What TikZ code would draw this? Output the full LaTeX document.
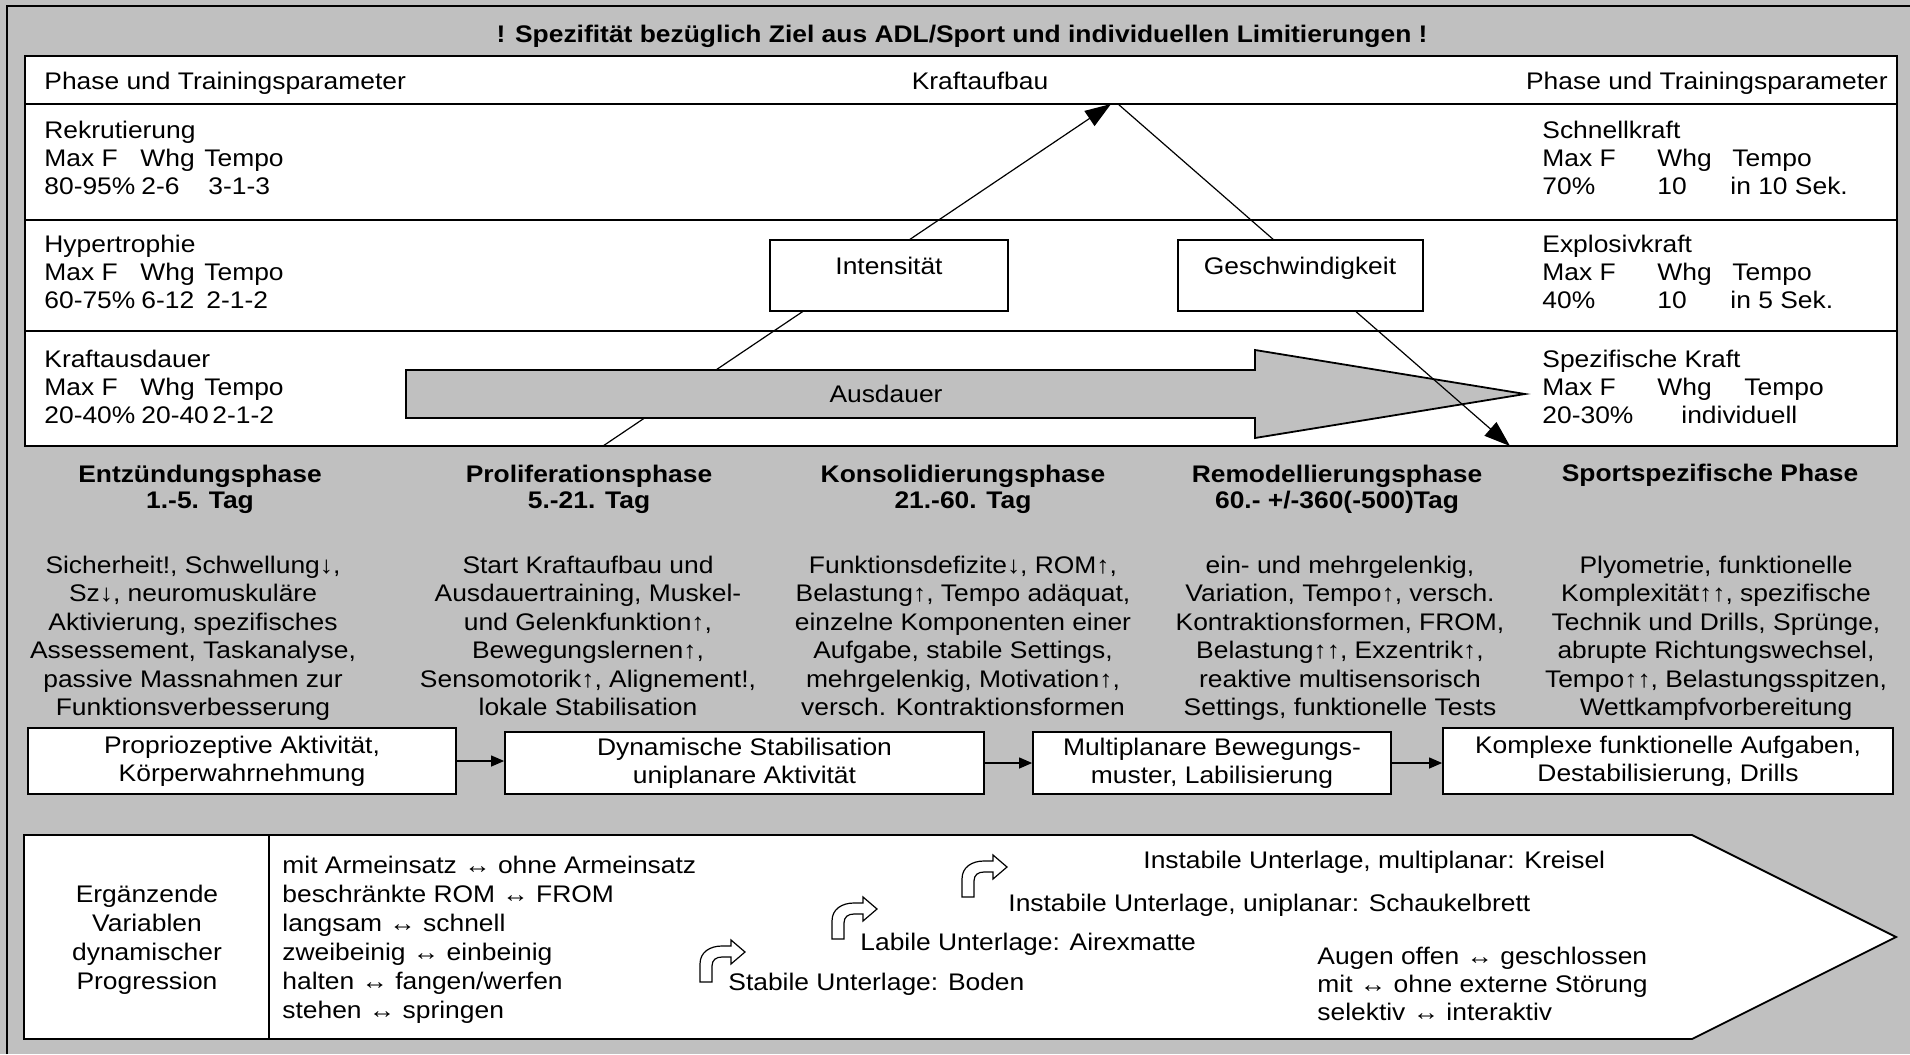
\documentclass[tikz,border=0pt]{standalone}
\usepackage{fontspec}
\setmainfont{Liberation Sans}[FakeStretch=1.1]
\usetikzlibrary{arrows.meta}
\definecolor{bg}{HTML}{C0C0C0}
\newcommand\fs{\fontsize{12pt}{14pt}\selectfont}
\newcommand\fsb{\fontsize{12pt}{13pt}\selectfont\bfseries}
\newcommand\fsw{\fontsize{12pt}{14.25pt}\selectfont}
\newcommand\fsl{\fontsize{12pt}{14.5pt}\selectfont}
\newcommand\tstr{\rule{0pt}{11pt}}
\begin{document}
\begin{tikzpicture}[x=0.5pt,y=-0.5pt,
  t/.style={inner sep=0pt, text height=11pt, text depth=2.4pt, font=\fs},
  tb/.style={t, font=\fsb},
  ml/.style={inner sep=0pt, align=center, anchor=north, font=\fs},
  mlb/.style={ml, font=\fsb},
  mlw/.style={ml, font=\fsw},
  mlc/.style={ml, font=\fsl},
  mll/.style={inner sep=0pt, align=left, anchor=north west, font=\fsl},
  row/.style={draw, fill=white, line width=0.9pt},
  wbox/.style={draw, fill=white, line width=0.9pt, inner sep=0pt},
  tbox/.style={wbox, align=center, font=\fs},
  thin/.style={line width=0.6pt},
  bigtip/.style={-{Triangle[length=13pt,width=9pt]}},
  smalltip/.style={-{Triangle[length=6.5pt,width=5.5pt]}},
  turnarrow/.pic={\draw[fill=white, line width=0.6pt] (0,42) -- (0,24) .. controls (0,12) and (10,6) .. (22,6) -- (31,6) -- (31,0) -- (45,12) -- (31,24) -- (31,17) -- (22,17) .. controls (16,17) and (12,20) .. (12,26) -- (12,42) -- cycle;}
]
\useasboundingbox (0,0) rectangle (1910,1054);
\fill[bg] (0,0) rectangle (1910,1054);
\draw[line width=1.2pt] (7,1054) -- (7,6) -- (1910,6);

\node[tb] (title) at (962,34) {! Spezifität bezüglich Ziel aus ADL/Sport und individuellen Limitierungen !};

% table
\draw[row] (25,56) rectangle (1897,104);
\draw[row] (25,104) rectangle (1897,220);
\draw[row] (25,220) rectangle (1897,331);
\draw[row] (25,331) rectangle (1897,446);

\node[t,anchor=west] (hl) at (44,81) {Phase und Trainingsparameter};
\node[t] (hm) at (980,81) {Kraftaufbau};
\node[t,anchor=east] (hr) at (1888,81) {Phase und Trainingsparameter};

% left rows
\node[t,anchor=west] (l1n) at (44,130) {Rekrutierung};
\node[t,anchor=west] (l1m) at (44,158) {Max F};
\node[t,anchor=west] (l1w) at (140,158) {Whg};
\node[t,anchor=west] (l1t) at (204,158) {Tempo};
\node[t,anchor=west] (l1v) at (44,186) {80-95\%};
\node[t,anchor=west] (l1r) at (141,186) {2-6};
\node[t,anchor=west] (l1p) at (208,186) {3-1-3};

\node[t,anchor=west] (l2n) at (44,244) {Hypertrophie};
\node[t,anchor=west] (l2m) at (44,272) {Max F};
\node[t,anchor=west] (l2w) at (140,272) {Whg};
\node[t,anchor=west] (l2t) at (204,272) {Tempo};
\node[t,anchor=west] (l2v) at (44,300) {60-75\%};
\node[t,anchor=west] (l2r) at (141,300) {6-12};
\node[t,anchor=west] (l2p) at (206,300) {2-1-2};

\node[t,anchor=west] (l3n) at (44,359) {Kraftausdauer};
\node[t,anchor=west] (l3m) at (44,387) {Max F};
\node[t,anchor=west] (l3w) at (140,387) {Whg};
\node[t,anchor=west] (l3t) at (204,387) {Tempo};
\node[t,anchor=west] (l3v) at (44,415) {20-40\%};
\node[t,anchor=west] (l3r) at (141,415) {20-40};
\node[t,anchor=west] (l3p) at (212,415) {2-1-2};

% right rows
\node[t,anchor=west] (r1n) at (1542,130) {Schnellkraft};
\node[t,anchor=west] (r1m) at (1542,158) {Max F};
\node[t,anchor=west] (r1w) at (1657,158) {Whg};
\node[t,anchor=west] (r1t) at (1732,158) {Tempo};
\node[t,anchor=west] (r1v) at (1542,186) {70\%};
\node[t,anchor=west] (r1r) at (1657,186) {10};
\node[t,anchor=west] (r1p) at (1730,186) {in 10 Sek.};

\node[t,anchor=west] (r2n) at (1542,244) {Explosivkraft};
\node[t,anchor=west] (r2m) at (1542,272) {Max F};
\node[t,anchor=west] (r2w) at (1657,272) {Whg};
\node[t,anchor=west] (r2t) at (1732,272) {Tempo};
\node[t,anchor=west] (r2v) at (1542,300) {40\%};
\node[t,anchor=west] (r2r) at (1657,300) {10};
\node[t,anchor=west] (r2p) at (1730,300) {in 5 Sek.};

\node[t,anchor=west] (r3n) at (1542,359) {Spezifische Kraft};
\node[t,anchor=west] (r3m) at (1542,387) {Max F};
\node[t,anchor=west] (r3w) at (1657,387) {Whg};
\node[t,anchor=west] (r3t) at (1744,387) {Tempo};
\node[t,anchor=west] (r3v) at (1542,415) {20-30\%};
\node[t,anchor=west] (r3r) at (1681,415) {individuell};

% triangle
\coordinate (lb) at (603,446);
\coordinate (ap) at (1111,104);
\coordinate (ap2) at (1118,104);
\coordinate (rt) at (1510,446);
\draw[thin,bigtip] (lb) -- (ap);
\draw[fill=bg, line width=0.9pt] (406,370) -- (1255,370) -- (1255,350) -- (1525,394) -- (1255,438) -- (1255,418) -- (406,418) -- cycle;
\node[t] (ausd) at (886,394) {Ausdauer};
\draw[thin,bigtip] (ap2) -- (rt);
\node[wbox, minimum width=119pt, minimum height=35.5pt] (intb) at (889,275.5) {};
\node[t] (intt) at (889,266) {Intensität};
\node[wbox, minimum width=122.5pt, minimum height=35.5pt] (gesb) at (1300.5,275.5) {};
\node[t] (gest) at (1300,266) {Geschwindigkeit};

% phases
\node[mlb] (h1) at (200,460) {\tstr Entzündungsphase\\1.-5. Tag};
\node[mlb] (h2) at (589,460) {\tstr Proliferationsphase\\5.-21. Tag};
\node[mlb] (h3) at (963,460) {\tstr Konsolidierungsphase\\21.-60. Tag};
\node[mlb] (h4) at (1337,460) {\tstr Remodellierungsphase\\60.- +/-360(-500)Tag};
\node[tb] (h5) at (1710,473) {Sportspezifische Phase};

\node[mlw] (p1) at (193,551) {\tstr Sicherheit!, Schwellung↓,\\Sz↓, neuromuskuläre\\Aktivierung, spezifisches\\Assessement, Taskanalyse,\\passive Massnahmen zur\\Funktionsverbesserung};
\node[mlw] (p2) at (588,551) {\tstr Start Kraftaufbau und\\Ausdauertraining, Muskel-\\und Gelenkfunktion↑,\\Bewegungslernen↑,\\Sensomotorik↑, Alignement!,\\lokale Stabilisation};
\node[mlw] (p3) at (963,551) {\tstr Funktionsdefizite↓, ROM↑,\\Belastung↑, Tempo adäquat,\\einzelne Komponenten einer\\Aufgabe, stabile Settings,\\mehrgelenkig, Motivation↑,\\versch. Kontraktionsformen};
\node[mlw] (p4) at (1340,551) {\tstr ein- und mehrgelenkig,\\Variation, Tempo↑, versch.\\Kontraktionsformen, FROM,\\Belastung↑↑, Exzentrik↑,\\reaktive multisensorisch\\Settings, funktionelle Tests};
\node[mlw] (p5) at (1716,551) {\tstr Plyometrie, funktionelle\\Komplexität↑↑, spezifische\\Technik und Drills, Sprünge,\\abrupte Richtungswechsel,\\Tempo↑↑, Belastungsspitzen,\\Wettkampfvorbereitung};

% progression boxes
\node[tbox, minimum width=214pt, minimum height=33pt] (b1) at (242,761) {Propriozeptive Aktivität,\\Körperwahrnehmung};
\node[tbox, minimum width=239.5pt, minimum height=31pt] (b2) at (744.5,763) {Dynamische Stabilisation\\uniplanare Aktivität};
\node[tbox, minimum width=179pt, minimum height=31pt] (b3) at (1212,763) {Multiplanare Bewegungs-\\muster, Labilisierung};
\node[tbox, minimum width=225pt, minimum height=33pt] (b4) at (1668,761) {Komplexe funktionelle Aufgaben,\\Destabilisierung, Drills};
\draw[thin,smalltip] (b1.east) -- (b1.east -| b2.west);
\draw[thin,smalltip] (b2.east) -- (b2.east -| b3.west);
\draw[thin,smalltip] (b3.east) -- (b3.east -| b4.west);

% bottom
\draw[fill=white, line width=0.9pt] (24,835) -- (1692,835) -- (1896,937) -- (1692,1039) -- (24,1039) -- cycle;
\node[wbox, minimum width=122.5pt, minimum height=102pt] (erg) at (146.5,937) {};
\node[mlc] (ergt) at (147,880) {\tstr Ergänzende\\Variablen\\dynamischer\\Progression};
\node[mll] (list1) at (282,851) {\tstr mit Armeinsatz ↔ ohne Armeinsatz\\beschränkte ROM ↔ FROM\\langsam ↔ schnell\\zweibeinig ↔ einbeinig\\halten ↔ fangen/werfen\\stehen ↔ springen};
\pic at (700,940) {turnarrow};
\pic at (832,897) {turnarrow};
\pic at (962,855) {turnarrow};
\node[t,anchor=west] (s1) at (728,982) {Stabile Unterlage: Boden};
\node[t,anchor=west] (s2) at (860,942) {Labile Unterlage: Airexmatte};
\node[t,anchor=west] (s3) at (1008,903) {Instabile Unterlage, uniplanar: Schaukelbrett};
\node[t,anchor=west] (s4) at (1143,860) {Instabile Unterlage, multiplanar: Kreisel};
\node[mll, font=\fs] (list2) at (1317,942) {\tstr Augen offen ↔ geschlossen\\mit ↔ ohne externe Störung\\selektiv ↔ interaktiv};
\end{tikzpicture}
\end{document}
